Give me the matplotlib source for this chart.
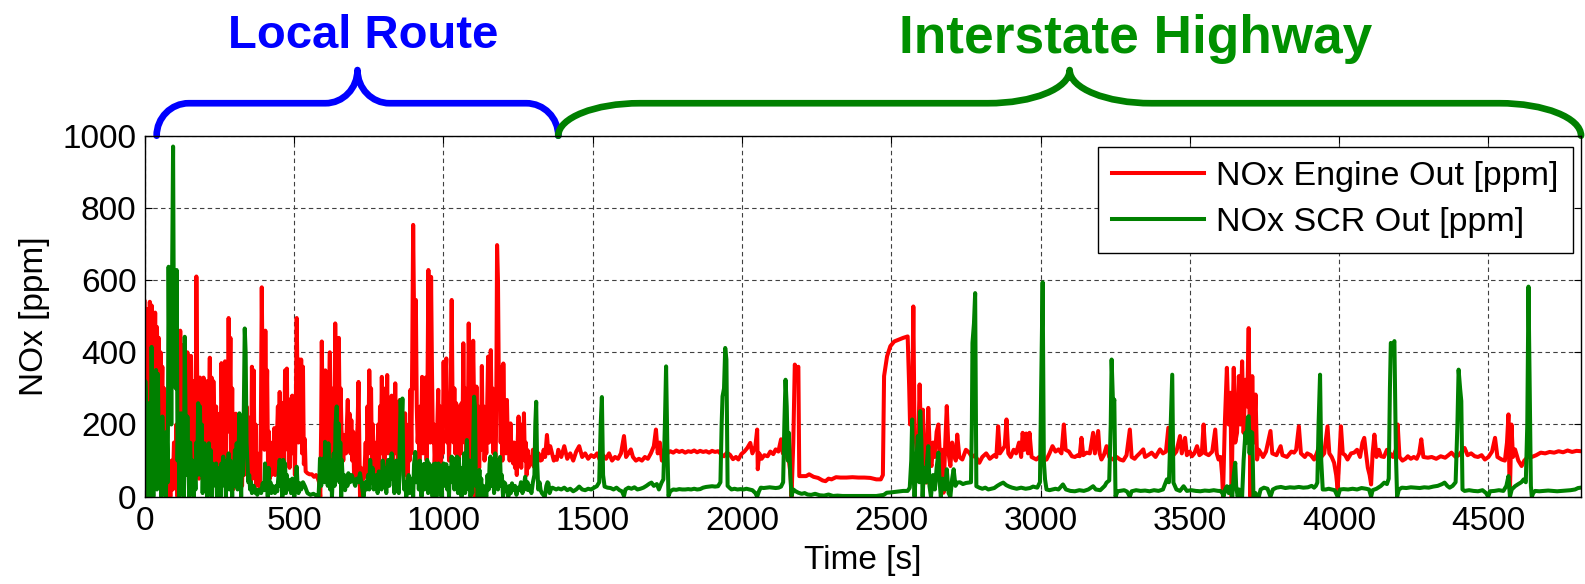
import numpy as np
import matplotlib
matplotlib.use('Agg')
from matplotlib import pyplot as plt
from matplotlib.path import Path
from matplotlib.patches import PathPatch

plt.rcParams['font.family'] = ['Liberation Sans', 'DejaVu Sans']

# route segments [s]
local_start, route_switch, t_end = 40, 1385, 4810

# NOx engine out, local route (time s, ppm)
red_local = [
    (0, 540), (3, 300), (6, 520), (9, 120), (11, 0), (14, 200), (17, 540), (20, 380), (23, 530), (26, 150),
    (29, 490), (32, 260), (35, 510), (38, 90), (41, 470), (44, 300), (47, 440), (50, 180), (53, 400), (56, 230),
    (59, 360), (62, 120), (65, 300), (68, 60), (71, 200), (74, 10), (77, 120), (80, 0), (83, 40), (86, 0),
    (90, 100), (94, 20), (98, 150), (102, 60), (106, 200), (110, 0), (113, 400), (116, 250), (119, 460), (122, 180),
    (125, 420), (128, 90), (131, 300), (134, 60), (137, 250), (140, 120), (143, 400), (146, 200), (149, 340), (152, 80),
    (155, 390), (158, 130), (161, 320), (164, 60), (167, 200), (170, 90), (173, 610), (176, 300), (179, 120), (182, 50),
    (185, 330), (188, 150), (191, 320), (194, 90), (197, 330), (200, 180), (203, 260), (206, 70), (209, 320), (212, 140),
    (215, 250), (218, 385), (221, 160), (224, 330), (227, 60), (230, 320), (233, 200), (236, 80), (239, 250), (242, 40),
    (245, 200), (248, 110), (251, 230), (254, 60), (257, 370), (260, 200), (263, 350), (266, 120), (269, 375), (272, 90),
    (275, 300), (278, 180), (281, 495), (284, 230), (287, 440), (290, 100), (293, 300), (296, 20), (299, 150), (302, 60),
    (305, 230), (308, 100), (311, 200), (314, 50), (317, 190), (320, 80), (323, 200), (326, 30), (329, 150), (332, 60),
    (335, 180), (338, 120), (341, 250), (344, 60), (347, 220), (350, 100), (353, 170), (356, 40), (359, 360), (362, 200),
    (365, 350), (368, 50), (371, 200), (374, 30), (377, 120), (380, 60), (383, 100), (386, 20), (389, 200), (392, 580),
    (395, 300), (398, 450), (401, 130), (404, 460), (407, 200), (410, 350), (413, 80), (416, 180), (419, 50), (422, 120),
    (425, 60), (428, 150), (431, 90), (434, 190), (437, 60), (440, 100), (443, 170), (446, 250), (449, 110), (452, 290),
    (455, 100), (458, 260), (461, 150), (464, 250), (467, 90), (470, 350), (473, 200), (476, 355), (479, 130), (482, 250),
    (485, 80), (488, 270), (491, 180), (494, 280), (497, 120), (500, 200), (503, 60), (506, 250), (509, 495), (512, 300),
    (515, 150), (518, 380), (521, 200), (524, 380), (527, 120), (530, 360), (533, 90), (536, 160), (539, 70), (545, 65),
    (552, 62), (560, 62), (567, 55), (574, 60), (580, 50), (584, 40), (588, 0), (591, 200), (593, 430), (596, 200),
    (599, 300), (602, 80), (605, 350), (608, 150), (611, 330), (614, 100), (617, 280), (620, 400), (623, 150), (626, 300),
    (629, 60), (632, 260), (635, 120), (638, 480), (641, 250), (644, 300), (647, 120), (650, 440), (653, 200), (656, 300),
    (659, 185), (662, 150), (665, 100), (668, 170), (671, 160), (674, 120), (677, 200), (680, 268), (683, 150), (686, 230),
    (689, 120), (692, 212), (695, 100), (698, 180), (701, 60), (704, 92), (707, 40), (710, 150), (713, 200), (716, 318),
    (719, 120), (721, 0), (724, 80), (727, 40), (730, 65), (733, 50), (736, 70), (740, 150), (743, 60), (746, 250),
    (749, 120), (752, 350), (755, 200), (758, 300), (761, 80), (764, 200), (767, 60), (770, 129), (773, 40), (776, 150),
    (779, 100), (782, 200), (785, 60), (788, 250), (791, 120), (794, 332), (797, 150), (800, 280), (803, 70), (806, 300),
    (809, 150), (812, 337), (815, 120), (818, 250), (821, 185), (824, 120), (827, 280), (830, 100), (833, 250), (836, 150),
    (839, 314), (842, 120), (845, 230), (848, 60), (851, 200), (854, 268), (857, 120), (860, 240), (863, 90), (866, 200),
    (869, 60), (872, 231), (875, 120), (878, 150), (881, 40), (884, 200), (887, 100), (890, 296), (893, 120), (896, 400),
    (899, 753), (902, 500), (905, 300), (908, 545), (911, 250), (914, 150), (917, 200), (920, 92), (923, 250), (926, 150),
    (929, 332), (932, 120), (935, 300), (938, 200), (941, 330), (944, 100), (947, 300), (950, 628), (953, 300), (956, 150),
    (959, 609), (962, 350), (965, 150), (968, 200), (971, 92), (974, 150), (977, 50), (980, 200), (983, 296), (986, 120),
    (989, 250), (992, 70), (995, 200), (998, 120), (1001, 374), (1004, 200), (1007, 320), (1010, 383), (1013, 150), (1016, 250),
    (1019, 100), (1022, 200), (1025, 300), (1028, 545), (1031, 250), (1034, 150), (1037, 300), (1040, 120), (1043, 259), (1046, 100),
    (1049, 250), (1052, 80), (1055, 200), (1058, 120), (1061, 259), (1064, 150), (1067, 425), (1070, 200), (1073, 300), (1076, 100),
    (1079, 250), (1082, 150), (1085, 480), (1088, 250), (1091, 150), (1094, 92), (1097, 200), (1100, 432), (1103, 250), (1106, 0),
    (1108, 150), (1111, 305), (1114, 120), (1117, 250), (1120, 80), (1123, 200), (1126, 130), (1129, 362), (1132, 150), (1135, 250),
    (1138, 100), (1141, 185), (1144, 120), (1147, 250), (1150, 388), (1153, 150), (1156, 300), (1159, 406), (1162, 200), (1165, 300),
    (1168, 120), (1171, 250), (1174, 60), (1177, 200), (1180, 697), (1183, 600), (1186, 300), (1189, 360), (1192, 150), (1195, 250),
    (1198, 100), (1201, 369), (1204, 200), (1207, 250), (1210, 120), (1213, 268), (1216, 150), (1219, 200), (1222, 100), (1225, 203),
    (1228, 120), (1231, 150), (1234, 92), (1237, 150), (1240, 80), (1243, 120), (1246, 60), (1249, 150), (1252, 222), (1255, 100),
    (1258, 150), (1261, 80), (1264, 200), (1267, 120), (1270, 231), (1273, 100), (1276, 150), (1279, 60), (1282, 129), (1285, 80),
    (1290, 110), (1295, 90), (1300, 130), (1303, 83), (1308, 150), (1313, 95), (1319, 120), (1325, 100), (1330, 102), (1336, 130),
    (1341, 110), (1347, 171), (1352, 120), (1358, 140), (1364, 120), (1370, 100), (1375, 110), (1380, 102),
]

# NOx engine out, interstate highway
red_highway = [
    (1385, 130), (1395, 110), (1405, 140), (1415, 105), (1425, 120), (1435, 100), (1445, 125), (1455, 140), (1465, 110), (1475, 120),
    (1485, 105), (1495, 115), (1505, 110), (1515, 120), (1525, 100), (1535, 115), (1545, 105), (1555, 120), (1565, 100), (1575, 110),
    (1585, 105), (1595, 120), (1605, 168), (1612, 110), (1620, 120), (1628, 131), (1635, 110), (1645, 100), (1655, 105), (1665, 100),
    (1675, 110), (1685, 105), (1695, 120), (1705, 140), (1712, 186), (1718, 120), (1725, 150), (1732, 100), (1740, 130), (1750, 120),
    (1760, 126), (1770, 122), (1780, 128), (1790, 124), (1800, 127), (1810, 122), (1820, 126), (1830, 124), (1840, 128), (1850, 123),
    (1860, 127), (1870, 124), (1880, 126), (1890, 122), (1900, 127), (1910, 124), (1920, 126), (1930, 118), (1940, 112), (1950, 122),
    (1960, 116), (1970, 104), (1980, 110), (1988, 103), (1998, 118), (2008, 125), (2018, 135), (2028, 149), (2035, 120), (2045, 140),
    (2051, 186), (2053, 76), (2058, 120), (2066, 105), (2075, 115), (2086, 112), (2095, 125), (2105, 118), (2113, 131), (2122, 125),
    (2131, 159), (2137, 120), (2143, 122), (2150, 110), (2158, 95), (2163, 60), (2166, 0), (2172, 150), (2177, 366), (2183, 350),
    (2189, 360), (2192, 57), (2200, 57), (2215, 57), (2225, 62), (2240, 55), (2255, 52), (2270, 45), (2280, 43), (2290, 50),
    (2300, 48), (2315, 54), (2330, 53), (2350, 53), (2370, 54), (2390, 53), (2410, 53), (2430, 52), (2450, 48), (2465, 48),
    (2472, 60), (2476, 334), (2486, 389), (2497, 417), (2510, 430), (2525, 435), (2540, 440), (2555, 444), (2560, 306), (2563, 200),
    (2570, 250), (2574, 527), (2578, 177), (2583, 150), (2589, 85), (2595, 311), (2600, 150), (2606, 241), (2611, 100), (2618, 39),
    (2624, 246), (2630, 100), (2635, 85), (2640, 150), (2646, 110), (2652, 180), (2658, 200), (2664, 90), (2670, 130), (2675, 11),
    (2681, 150), (2686, 251), (2692, 120), (2698, 85), (2704, 150), (2710, 120), (2716, 100), (2721, 172), (2728, 110), (2738, 103),
    (2750, 130), (2761, 122), (2770, 110), (2780, 115), (2795, 94), (2805, 110), (2818, 120), (2830, 105), (2845, 115), (2852, 110),
    (2858, 195), (2864, 120), (2872, 130), (2880, 140), (2886, 214), (2892, 120), (2900, 110), (2910, 130), (2918, 120), (2928, 150),
    (2935, 110), (2940, 177), (2946, 130), (2952, 175), (2958, 120), (2963, 177), (2970, 110), (2986, 103), (2995, 110), (3005, 100),
    (3020, 103), (3030, 120), (3040, 140), (3050, 125), (3060, 131), (3070, 120), (3078, 200), (3084, 130), (3095, 125), (3105, 112),
    (3115, 110), (3125, 115), (3131, 112), (3137, 163), (3143, 115), (3154, 122), (3165, 120), (3176, 177), (3182, 120), (3193, 182),
    (3198, 120), (3204, 103), (3212, 115), (3221, 140), (3230, 110), (3243, 103), (3255, 110), (3266, 103), (3277, 100), (3288, 115),
    (3299, 186), (3305, 110), (3315, 105), (3322, 112), (3332, 120), (3344, 131), (3350, 110), (3360, 115), (3372, 122), (3385, 110),
    (3400, 131), (3410, 120), (3420, 125), (3428, 191), (3435, 120), (3445, 115), (3455, 125), (3467, 168), (3473, 120), (3484, 163),
    (3490, 115), (3500, 125), (3507, 112), (3515, 120), (3524, 140), (3532, 115), (3540, 120), (3546, 200), (3552, 120), (3563, 115),
    (3575, 125), (3585, 186), (3590, 120), (3596, 103), (3603, 110), (3608, 60), (3611, 0), (3617, 200), (3624, 357), (3630, 200),
    (3636, 288), (3640, 0), (3644, 250), (3647, 357), (3652, 150), (3658, 177), (3664, 334), (3669, 200), (3675, 375), (3680, 177),
    (3686, 324), (3692, 250), (3697, 467), (3700, 200), (3703, 0), (3706, 200), (3709, 334), (3714, 150), (3720, 283), (3725, 103),
    (3731, 130), (3737, 122), (3745, 110), (3755, 125), (3770, 182), (3776, 120), (3790, 115), (3804, 140), (3810, 115), (3825, 110),
    (3840, 125), (3849, 122), (3856, 130), (3865, 195), (3872, 120), (3885, 110), (3893, 120), (3905, 115), (3916, 103), (3925, 120),
    (3933, 140), (3940, 110), (3950, 120), (3961, 195), (3967, 120), (3975, 110), (3983, 94), (3990, 60), (3995, 20), (4000, 100),
    (4006, 195), (4012, 120), (4020, 115), (4028, 103), (4040, 120), (4050, 122), (4060, 130), (4070, 110), (4078, 150), (4084, 163),
    (4090, 120), (4096, 80), (4102, 60), (4107, 34), (4112, 120), (4118, 172), (4125, 110), (4133, 130), (4140, 112), (4150, 110),
    (4160, 130), (4168, 122), (4180, 110), (4190, 130), (4196, 200), (4202, 110), (4212, 100), (4222, 105), (4230, 112), (4240, 105),
    (4250, 110), (4260, 105), (4268, 120), (4275, 159), (4282, 110), (4297, 108), (4310, 110), (4325, 105), (4340, 112), (4355, 108),
    (4366, 115), (4376, 122), (4390, 110), (4400, 115), (4410, 125), (4420, 135), (4430, 115), (4442, 120), (4454, 112), (4465, 110),
    (4477, 115), (4488, 103), (4500, 110), (4512, 125), (4522, 163), (4530, 110), (4544, 103), (4555, 100), (4562, 150), (4567, 228),
    (4570, 60), (4572, 20), (4577, 200), (4582, 110), (4589, 131), (4600, 100), (4611, 85), (4620, 100), (4634, 112), (4645, 110),
    (4660, 115), (4675, 122), (4690, 120), (4705, 124), (4720, 122), (4735, 126), (4750, 123), (4765, 128), (4780, 124), (4795, 127),
    (4809, 126),
]

# NOx SCR out, local route
green_local = [
    (0, 0), (2, 320), (5, 250), (8, 30), (11, 259), (14, 0), (17, 150), (20, 60), (23, 415), (26, 200),
    (29, 0), (32, 300), (35, 100), (38, 351), (41, 20), (44, 340), (47, 150), (50, 60), (53, 200), (56, 0),
    (59, 222), (62, 100), (65, 30), (68, 120), (71, 0), (74, 180), (77, 40), (80, 637), (83, 300), (86, 620),
    (89, 200), (92, 640), (95, 970), (98, 400), (101, 620), (104, 300), (107, 628), (110, 100), (113, 231), (116, 0),
    (119, 200), (122, 231), (125, 50), (128, 150), (131, 0), (134, 443), (137, 200), (140, 60), (143, 222), (146, 80),
    (149, 0), (152, 150), (155, 74), (158, 30), (161, 100), (164, 0), (167, 90), (170, 20), (173, 150), (176, 60),
    (179, 259), (182, 120), (185, 250), (188, 60), (191, 200), (194, 10), (197, 120), (200, 148), (203, 40), (206, 129),
    (209, 0), (212, 100), (215, 148), (218, 50), (221, 129), (224, 0), (227, 92), (230, 30), (233, 80), (236, 37),
    (239, 92), (242, 0), (245, 60), (248, 20), (251, 80), (254, 0), (257, 92), (260, 30), (263, 111), (266, 50),
    (269, 80), (272, 0), (275, 100), (278, 40), (281, 120), (284, 20), (287, 100), (290, 60), (293, 0), (296, 90),
    (299, 30), (302, 129), (305, 60), (308, 148), (311, 20), (314, 100), (317, 231), (320, 80), (323, 0), (326, 120),
    (329, 60), (332, 250), (335, 466), (338, 400), (341, 150), (344, 92), (347, 40), (350, 60), (353, 20), (356, 40),
    (359, 10), (362, 18), (365, 30), (368, 14), (371, 10), (374, 20), (377, 5), (380, 14), (385, 20), (390, 10),
    (395, 37), (400, 18), (403, 92), (406, 20), (409, 60), (412, 0), (415, 80), (418, 18), (421, 40), (424, 10),
    (428, 30), (432, 20), (436, 10), (440, 30), (444, 15), (448, 60), (452, 102), (455, 30), (458, 92), (461, 0),
    (464, 102), (467, 40), (470, 92), (473, 10), (476, 60), (480, 20), (484, 40), (487, 46), (490, 10), (494, 50),
    (498, 30), (501, 0), (505, 40), (509, 83), (512, 30), (515, 10), (520, 37), (524, 20), (530, 40), (537, 28),
    (545, 10), (555, 5), (565, 8), (575, 3), (582, 0), (585, 50), (587, 106), (591, 30), (595, 90), (599, 106),
    (602, 40), (604, 152), (607, 60), (610, 120), (613, 30), (615, 148), (618, 60), (621, 20), (624, 100), (627, 0),
    (630, 55), (633, 120), (636, 30), (639, 200), (643, 250), (646, 100), (649, 203), (652, 40), (655, 150), (658, 0),
    (660, 102), (664, 30), (668, 60), (671, 18), (675, 50), (679, 30), (682, 65), (688, 40), (693, 60), (699, 46),
    (705, 30), (710, 50), (715, 40), (721, 65), (727, 30), (733, 0), (738, 40), (743, 20), (748, 60), (752, 20),
    (755, 102), (759, 40), (763, 80), (767, 20), (772, 46), (776, 60), (780, 10), (784, 70), (789, 65), (793, 20),
    (797, 100), (801, 40), (805, 80), (809, 10), (813, 90), (816, 102), (819, 30), (823, 80), (827, 120), (830, 50),
    (833, 90), (836, 10), (839, 55), (842, 100), (845, 20), (848, 60), (851, 10), (854, 150), (857, 268), (860, 200),
    (863, 272), (866, 60), (869, 20), (872, 40), (876, 0), (880, 37), (884, 60), (888, 10), (892, 37), (895, 50),
    (899, 0), (902, 90), (906, 124), (909, 40), (912, 80), (915, 92), (918, 20), (921, 100), (924, 60), (927, 0),
    (930, 65), (934, 90), (937, 20), (940, 92), (943, 40), (946, 102), (949, 10), (952, 92), (955, 40), (958, 80),
    (961, 46), (964, 0), (967, 90), (970, 30), (974, 92), (977, 0), (980, 60), (984, 92), (987, 20), (990, 60),
    (994, 0), (997, 80), (1001, 92), (1004, 30), (1007, 65), (1010, 90), (1013, 20), (1016, 60), (1019, 0), (1022, 80),
    (1025, 40), (1028, 111), (1031, 50), (1034, 106), (1037, 20), (1040, 100), (1043, 60), (1046, 111), (1049, 10), (1052, 106),
    (1055, 40), (1058, 80), (1061, 0), (1064, 60), (1067, 30), (1070, 120), (1073, 10), (1076, 80), (1079, 157), (1082, 60),
    (1085, 20), (1088, 100), (1091, 0), (1094, 40), (1097, 10), (1100, 150), (1103, 277), (1106, 250), (1109, 30), (1112, 60),
    (1115, 0), (1118, 40), (1121, 74), (1124, 20), (1127, 50), (1130, 0), (1134, 30), (1137, 9), (1140, 20), (1144, 0),
    (1148, 60), (1152, 20), (1155, 90), (1158, 111), (1161, 30), (1164, 100), (1167, 60), (1170, 10), (1174, 120), (1177, 40),
    (1180, 100), (1183, 20), (1186, 80), (1190, 110), (1193, 30), (1196, 60), (1200, 0), (1203, 40), (1207, 37), (1212, 20),
    (1218, 0), (1222, 30), (1226, 10), (1230, 37), (1235, 18), (1240, 30), (1245, 5), (1250, 25), (1255, 18), (1260, 40),
    (1265, 10), (1270, 30), (1274, 55), (1278, 20), (1282, 40), (1285, 18), (1290, 30), (1295, 10), (1300, 40), (1305, 60),
    (1308, 200), (1311, 263), (1314, 100), (1318, 20), (1322, 40), (1326, 18), (1330, 10), (1335, 5), (1340, 0), (1345, 30),
    (1349, 40), (1352, 37), (1356, 10), (1360, 20), (1365, 25), (1370, 23), (1378, 20), (1385, 23),
]

# NOx SCR out, interstate highway
green_highway = [
    (1395, 20), (1405, 25), (1415, 18), (1425, 22), (1435, 15), (1445, 20), (1455, 28), (1465, 20), (1475, 18), (1485, 22),
    (1495, 20), (1505, 25), (1514, 29), (1522, 40), (1527, 200), (1531, 276), (1535, 60), (1540, 28), (1550, 25), (1560, 24),
    (1570, 20), (1580, 25), (1590, 18), (1598, 15), (1605, 2), (1610, 20), (1620, 25), (1630, 22), (1640, 26), (1650, 20),
    (1660, 22), (1670, 25), (1680, 30), (1690, 36), (1697, 39), (1705, 30), (1715, 35), (1722, 20), (1731, 39), (1737, 48),
    (1742, 200), (1746, 361), (1750, 150), (1754, 2), (1760, 15), (1770, 20), (1780, 19), (1790, 21), (1800, 20), (1810, 20),
    (1820, 21), (1830, 20), (1840, 22), (1850, 20), (1860, 21), (1870, 25), (1880, 27), (1890, 28), (1900, 29), (1910, 28),
    (1920, 29), (1928, 40), (1932, 200), (1935, 278), (1940, 300), (1944, 412), (1948, 380), (1952, 30), (1958, 25), (1965, 20),
    (1975, 22), (1985, 20), (1995, 21), (2005, 20), (2015, 22), (2025, 20), (2035, 18), (2045, 10), (2051, 0), (2057, 15),
    (2063, 25), (2073, 24), (2083, 25), (2093, 26), (2103, 25), (2113, 24), (2123, 25), (2131, 28), (2138, 40), (2142, 200),
    (2146, 324), (2150, 250), (2154, 100), (2157, 177), (2162, 60), (2166, 2), (2172, 20), (2180, 15), (2189, 11), (2200, 8),
    (2210, 10), (2220, 6), (2232, 5), (2245, 8), (2260, 4), (2275, 3), (2290, 6), (2305, 2), (2320, 3), (2337, 2),
    (2360, 2), (2390, 2), (2420, 2), (2450, 2), (2475, 5), (2485, 11), (2500, 12), (2520, 14), (2540, 16), (2555, 16),
    (2562, 25), (2567, 100), (2570, 214), (2573, 100), (2578, 0), (2583, 80), (2589, 168), (2594, 40), (2597, 237), (2601, 150),
    (2605, 0), (2610, 80), (2615, 40), (2620, 100), (2624, 140), (2628, 30), (2633, 0), (2640, 60), (2646, 20), (2652, 80),
    (2658, 122), (2662, 40), (2666, 0), (2672, 50), (2680, 20), (2686, 76), (2692, 10), (2698, 0), (2704, 50), (2709, 76),
    (2715, 30), (2721, 39), (2730, 40), (2740, 35), (2750, 38), (2760, 39), (2767, 40), (2770, 200), (2772, 426), (2777, 480),
    (2781, 564), (2785, 29), (2795, 25), (2805, 22), (2815, 25), (2825, 20), (2835, 22), (2845, 24), (2855, 30), (2865, 35),
    (2875, 39), (2885, 32), (2895, 28), (2905, 25), (2920, 22), (2935, 25), (2950, 22), (2965, 24), (2975, 28), (2989, 25),
    (2998, 40), (3002, 300), (3007, 594), (3011, 100), (3015, 48), (3020, 20), (3030, 18), (3040, 20), (3050, 22), (3060, 20),
    (3075, 34), (3085, 20), (3100, 16), (3115, 15), (3130, 18), (3145, 16), (3160, 20), (3176, 29), (3185, 20), (3200, 18),
    (3215, 30), (3221, 39), (3230, 45), (3235, 200), (3238, 380), (3243, 250), (3247, 269), (3251, 0), (3258, 15), (3266, 16),
    (3280, 18), (3290, 14), (3299, 0), (3305, 15), (3320, 18), (3335, 16), (3350, 17), (3365, 15), (3380, 18), (3395, 16),
    (3410, 20), (3423, 48), (3430, 40), (3436, 200), (3441, 338), (3445, 39), (3455, 20), (3467, 16), (3479, 29), (3490, 16),
    (3505, 18), (3520, 16), (3535, 15), (3550, 17), (3565, 16), (3580, 18), (3595, 16), (3602, 16), (3609, 10), (3613, 0),
    (3618, 20), (3624, 29), (3630, 10), (3636, 29), (3642, 0), (3647, 60), (3652, 94), (3655, 30), (3660, 0), (3665, 20),
    (3670, 0), (3675, 0), (3680, 100), (3686, 177), (3690, 150), (3694, 220), (3697, 223), (3700, 120), (3704, 180), (3709, 177),
    (3713, 0), (3720, 10), (3725, 0), (3731, 0), (3737, 20), (3748, 25), (3760, 22), (3770, 0), (3778, 20), (3790, 25),
    (3805, 27), (3820, 24), (3835, 26), (3850, 25), (3865, 27), (3880, 25), (3895, 26), (3908, 30), (3916, 25), (3922, 30),
    (3927, 39), (3931, 200), (3936, 338), (3940, 100), (3945, 20), (3955, 20), (3965, 22), (3975, 20), (3985, 18), (3995, 0),
    (4003, 20), (4015, 21), (4030, 20), (4045, 22), (4060, 20), (4075, 24), (4090, 22), (4100, 20), (4107, 0), (4112, 18),
    (4125, 22), (4140, 30), (4151, 39), (4160, 35), (4166, 50), (4170, 300), (4173, 426), (4180, 420), (4185, 431), (4190, 120),
    (4194, 0), (4200, 20), (4210, 25), (4225, 24), (4240, 26), (4255, 25), (4270, 24), (4285, 26), (4300, 25), (4315, 28),
    (4330, 30), (4345, 35), (4353, 39), (4362, 30), (4370, 25), (4380, 30), (4390, 40), (4396, 200), (4400, 352), (4405, 300),
    (4409, 265), (4413, 20), (4420, 16), (4435, 18), (4450, 16), (4465, 15), (4480, 18), (4492, 10), (4499, 0), (4505, 15),
    (4520, 16), (4535, 18), (4550, 16), (4560, 30), (4567, 57), (4570, 20), (4572, 0), (4578, 20), (4589, 29), (4600, 35),
    (4610, 40), (4618, 48), (4625, 40), (4630, 200), (4634, 582), (4638, 300), (4642, 30), (4645, 0), (4650, 10), (4656, 16),
    (4670, 15), (4685, 16), (4700, 17), (4715, 16), (4730, 15), (4745, 16), (4760, 17), (4775, 18), (4790, 20), (4800, 24),
    (4809, 25),
]

red = np.array(sorted(red_local + red_highway), dtype=float)
green = np.array(sorted(green_local + green_highway), dtype=float)


def brace(ax, x0, x1, color, y0=1000, y1=1090, y2=1182, frac=0.08):
    # curly brace drawn above the axes, in data coordinates
    w = frac * (x1 - x0)
    xm = 0.5 * (x0 + x1)
    k = 0.5523
    verts = [
        (x0, y0),
        (x0, y0 + k * (y1 - y0)), (x0 + (1 - k) * w, y1), (x0 + w, y1),
        (xm - w, y1),
        (xm - w + k * w, y1), (xm, y2 - k * (y2 - y1)), (xm, y2),
        (xm, y2 - k * (y2 - y1)), (xm + w - k * w, y1), (xm + w, y1),
        (x1 - w, y1),
        (x1 - (1 - k) * w, y1), (x1, y0 + k * (y1 - y0)), (x1, y0),
    ]
    codes = [Path.MOVETO] + [Path.CURVE4] * 3 + [Path.LINETO] + [Path.CURVE4] * 6 + [Path.LINETO] + [Path.CURVE4] * 3
    patch = PathPatch(Path(verts, codes), fill=False, edgecolor=color, lw=4.8,
                      capstyle='round', joinstyle='round', clip_on=False)
    ax.add_patch(patch)


fig = plt.figure(figsize=(15.85, 5.84), dpi=100)
ax = fig.add_axes([0.0913, 0.1495, 0.9062, 0.6181])

ax.plot(red[:, 0], red[:, 1], color='#ff0000', lw=2.9, label='NOx Engine Out [ppm]')
ax.plot(green[:, 0], green[:, 1], color='#008000', lw=2.9, label='NOx SCR Out [ppm]')

ax.set_xlim(0, t_end)
ax.set_ylim(0, 1000)
ax.set_xticks(np.arange(0, 4501, 500))
ax.set_yticks(np.arange(0, 1001, 200))
ax.grid(True, linestyle=(0, (4, 3)), color='#404040', lw=0.8)
ax.tick_params(direction='in', top=True, right=True, length=5, labelsize=24)
ax.tick_params(axis='x', pad=7)
ax.tick_params(axis='y', pad=6)
for s in ax.spines.values():
    s.set_linewidth(1.0)

ax.set_xlabel('Time [s]', fontsize=24)
ax.set_ylabel('NOx [ppm]', fontsize=24)
ax.xaxis.set_label_coords(0.5, -0.135)
ax.yaxis.set_label_coords(-0.066, 0.5)

leg = ax.legend(loc='upper right', bbox_to_anchor=(0.9942, 0.9695), fontsize=24.5,
                handlelength=2.7, handletextpad=0.35, borderpad=0.42, labelspacing=0.45,
                fancybox=False, framealpha=1, edgecolor='black', borderaxespad=0)
leg.get_frame().set_linewidth(1.0)

# route braces and labels
brace(ax, local_start, route_switch, '#0000ff')
brace(ax, route_switch, t_end, '#008000')
ax.text(733, 1242, 'Local Route', color='#0000ff', fontsize=34, fontweight='bold',
        ha='center', va='baseline', clip_on=False)
ax.text(3318, 1228, 'Interstate Highway', color='#009000', fontsize=38.3, fontweight='bold',
        ha='center', va='baseline', clip_on=False)

plt.savefig('out.png', dpi=100)
